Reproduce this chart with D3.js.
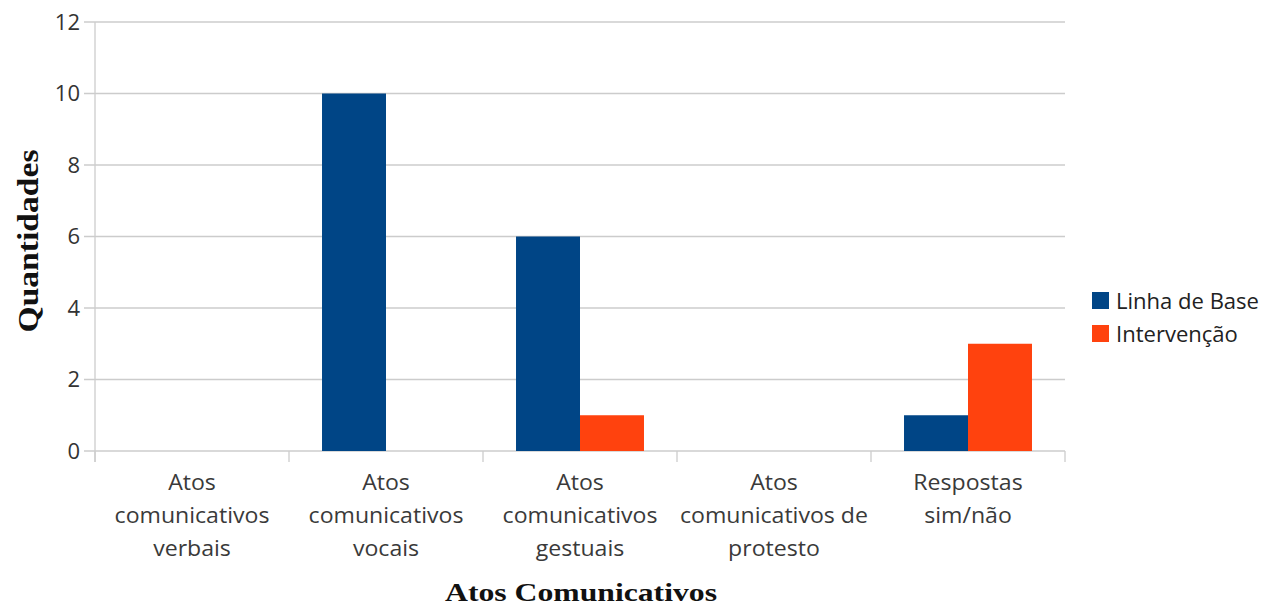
<!DOCTYPE html>
<html><head><meta charset="utf-8">
<script src="https://cdn.jsdelivr.net/npm/d3@7"></script>
<style>body{margin:0;background:#fff}</style>
</head><body>
<svg id="c" width="1277" height="608"></svg>
<script>
const categories = [
  ["Atos","comunicativos","verbais"],
  ["Atos","comunicativos","vocais"],
  ["Atos","comunicativos","gestuais"],
  ["Atos","comunicativos de","protesto"],
  ["Respostas","sim/não"]
];
const seriesNames = ["Linha de Base","Intervenção"];
const linhaDeBase = [0,10,6,0,1];
const intervencao = [0,0,1,0,3];
const yTicks = [0,2,4,6,8,10,12];
const colors = ["#004586","#ff420e"];

const svg = d3.select("#c");
const m = {l:95, r:1065, t:22, b:451};
const x = d3.scaleBand().domain(d3.range(categories.length)).range([m.l,m.r]).paddingInner(0).paddingOuter(0);
const inner = d3.scaleBand().domain([0,1]).range([0,x.bandwidth()]).paddingOuter(0.516).paddingInner(0);
const y = d3.scaleLinear().domain([0,12]).range([m.b,m.t]);
const font = "'Open Sans', sans-serif";

// gridlines
svg.append("g").selectAll("line").data(yTicks).join("line")
  .attr("x1",84).attr("x2",m.r).attr("y1",d=>y(d)).attr("y2",d=>y(d))
  .attr("stroke","#cccccc").attr("stroke-width",1.3);
// y axis line
svg.append("line").attr("x1",m.l).attr("x2",m.l).attr("y1",m.t).attr("y2",462)
  .attr("stroke","#cccccc").attr("stroke-width",1.3);
// x ticks
svg.append("g").selectAll("line").data(d3.range(categories.length+1)).join("line")
  .attr("x1",i=>m.l+i*x.step()).attr("x2",i=>m.l+i*x.step())
  .attr("y1",m.b).attr("y2",462).attr("stroke","#cccccc").attr("stroke-width",1.3);

// y tick labels
svg.append("g").selectAll("text").data(yTicks).join("text")
  .attr("x",80).attr("y",d=>y(d)).attr("dy","0.36em").attr("text-anchor","end")
  .attr("font-family",font).attr("font-size",22).attr("fill","#333").text(d=>d);

// bars
const series = [linhaDeBase, intervencao];
series.forEach((vals,si)=>{
  svg.append("g").selectAll("rect").data(vals).join("rect")
    .attr("x",(d,i)=>x(i)+inner(si)).attr("width",inner.bandwidth())
    .attr("y",d=>y(d)).attr("height",d=>y(0)-y(d)).attr("fill",colors[si]);
});

// category labels
const cl = svg.append("g");
categories.forEach((lines,i)=>{
  const cx = x(i)+x.bandwidth()/2;
  const t = cl.append("text").attr("text-anchor","middle").attr("font-family",font)
    .attr("font-size",21).attr("fill","#3a3a3a")
    .attr("transform",`translate(${cx},0) scale(1.1,1)`);
  lines.forEach((ln,j)=>{
    t.append("tspan").attr("x",0).attr("y",490+j*33).text(ln);
  });
});

// axis titles
svg.append("text").attr("transform","translate(38,241) rotate(-90)").attr("text-anchor","middle")
  .attr("font-family","'Liberation Serif', serif").attr("font-weight","bold").attr("font-size",29)
  .attr("textLength",183).attr("lengthAdjust","spacingAndGlyphs")
  .attr("fill","#111").text("Quantidades");
svg.append("text").attr("x",581).attr("y",601).attr("text-anchor","middle")
  .attr("font-family","'Liberation Serif', serif").attr("font-weight","bold").attr("font-size",26)
  .attr("textLength",272).attr("lengthAdjust","spacingAndGlyphs")
  .attr("fill","#111").text("Atos Comunicativos");

// legend
const lg = svg.append("g");
seriesNames.forEach((n,i)=>{
  lg.append("rect").attr("x",1092).attr("y",292+i*33).attr("width",17).attr("height",17).attr("fill",colors[i]);
  lg.append("text").attr("transform",`translate(1116,${309+i*33}) scale(1.05,1)`)
    .attr("font-family",font).attr("font-size",21).attr("fill","#222").text(n);
});
</script>
</body></html>
